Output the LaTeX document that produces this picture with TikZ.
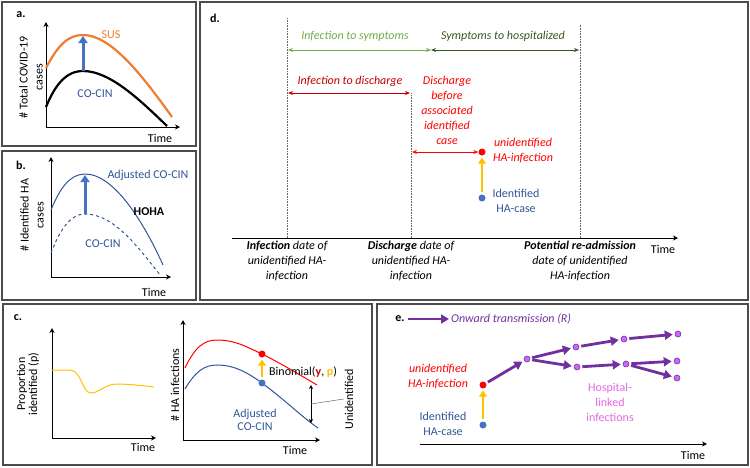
\documentclass[tikz,border=0pt]{standalone}
\usepackage{fontspec}
\setmainfont{Carlito}
\usetikzlibrary{arrows.meta, positioning, calc}

\definecolor{susorange}{RGB}{237,125,49}
\definecolor{cinblue}{RGB}{47,85,151}
\definecolor{arrowblue}{RGB}{68,114,196}
\definecolor{gold}{RGB}{255,192,0}
\definecolor{lightgreen}{RGB}{112,173,71}
\definecolor{darkgreen}{RGB}{56,87,35}
\definecolor{darkred}{RGB}{192,0,0}
\definecolor{purp}{RGB}{112,48,160}
\definecolor{violetdot}{RGB}{204,102,255}
\definecolor{pinktext}{RGB}{225,105,225}
\newcommand{\figfont}{\fontsize{12}{15}\selectfont}

\begin{document}
\begin{tikzpicture}[
    x=1pt, y=-1pt,
    every node/.style={font=\figfont, inner sep=1pt},
    frame/.style={draw=black!70, line width=1.1pt},
    axis/.style={-{Stealth[length=5pt,width=5pt]}, line width=0.8pt},
    tag/.style={font=\figfont\bfseries},
    bigarrow/.style={-{Triangle[length=7pt,width=9pt]}, line width=3pt},
    goldarrow/.style={-{Triangle[length=6pt,width=8pt]}, line width=2.6pt, gold, shorten >=2pt, shorten <=2pt},
    span/.style={{Stealth[length=5pt,width=4pt]}-{Stealth[length=5pt,width=4pt]}, line width=1pt},
    guide/.style={densely dotted, draw=black!60, line width=0.6pt},
    dot/.style={circle, inner sep=0pt, minimum size=7pt},
    hdot/.style={circle, draw=purp, fill=violetdot, line width=0.6pt, inner sep=0pt, minimum size=6pt},
    onward/.style={-{Triangle[length=8pt,width=9pt]}, line width=2.8pt, purp, shorten >=2pt, shorten <=2pt}
]
\useasboundingbox (0,0) rectangle (750,467);

% Panel frames
\draw[frame] (2,2) rectangle (196,146);
\draw[frame] (2,151) rectangle (196,300);
\draw[frame] (200,2) rectangle (748,300);
\draw[frame] (3,304) rectangle (372,465);
\draw[frame] (377,304) rectangle (748,465);

% Panel a
\node[tag] (taga) at (21,15) {a.};
\coordinate (oa) at (46,127);
\draw[axis] (oa) -- (46,22);
\draw[axis] (oa) -- (180,127);
\node[rotate=90, align=center] (ya) at (31,77) {\# Total COVID-19\\cases};
\node (tia) at (160,138) {Time};
\draw[susorange, line width=2.2pt] (46,68) .. controls (58,45) and (68,35) .. (83,35)
    .. controls (110,35) and (140,72) .. (172,117);
\draw[black, line width=2.2pt] (46,107) .. controls (55,85) and (66,71) .. (83,71)
    .. controls (110,71) and (140,100) .. (167,126);
\draw[bigarrow, arrowblue] (83,71) -- (83,36);
\node[susorange] (sus) at (111,35) {SUS};
\node[cinblue] (cina) at (95,94) {CO-CIN};

% Panel b
\node[tag] (tagb) at (21,165) {b.};
\coordinate (ob) at (51,277);
\draw[axis] (ob) -- (51,157);
\draw[axis] (ob) -- (171,277);
\node[rotate=90, align=center] (yb) at (32,215) {\# Identified HA\\cases};
\node (tib) at (154,292) {Time};
\draw[cinblue, line width=1pt] (51,210) .. controls (60,188) and (70,174) .. (85,174)
    .. controls (115,174) and (145,225) .. (163,265);
\draw[cinblue, line width=1pt, dashed] (51,253) .. controls (60,230) and (70,214) .. (85,214)
    .. controls (115,214) and (140,250) .. (161,276);
\draw[bigarrow, arrowblue] (85,214) -- (85,175);
\node[cinblue] (adjb) at (148,175) {Adjusted CO-CIN};
\node[font=\figfont\bfseries] (hoha) at (149,212) {HOHA};
\node[cinblue] (cinb) at (103,244) {CO-CIN};

% Panel c
\node[tag] (tagc) at (18,318) {c.};
\coordinate (oc1) at (52,438);
\draw[axis] (oc1) -- (52,328);
\draw[axis] (oc1) -- (156,438);
\node[rotate=90, align=center, font=\fontsize{12}{12}\selectfont] (yc1) at (28,384) {Proportion\\identified (p)};
\node (tic1) at (143,447) {Time};
\draw[gold, line width=1pt] (52,370) -- (70,370) .. controls (82,371) and (82,393) .. (91,393)
    .. controls (99,393) and (105,384) .. (117,384) .. controls (130,384) and (145,386) .. (154,387);
\coordinate (oc2) at (183,440);
\draw[axis] (oc2) -- (183,320);
\draw[axis] (oc2) -- (320,440);
\node[rotate=90] (yc2) at (175,385) {\# HA infections};
\node (tic2) at (295,450) {Time};
\draw[red, line width=1pt] (185,368) .. controls (195,347) and (204,340) .. (217,340)
    .. controls (235,340) and (247,347) .. (262,354) .. controls (282,364) and (300,375) .. (317,385);
\draw[cinblue, line width=1pt] (185,389) .. controls (195,372) and (204,365) .. (217,365)
    .. controls (235,365) and (248,373) .. (262,383) .. controls (285,400) and (302,417) .. (318,428);
\node[dot, fill=red] (cred) at (262,354) {};
\node[dot, fill=arrowblue] (cblue) at (262,383) {};
\draw[goldarrow] (cblue) -- (cred);
\node[anchor=west] (binom) at (268,372) {Binomial({\color{darkred}\textbf{y}}, {\color{gold}\textbf{p}})};
\coordinate (unidtop) at (311,385);
\coordinate (unidbot) at (311,423);
\draw[{Stealth[length=4pt,width=4pt]}-{Stealth[length=4pt,width=4pt]}, line width=0.6pt] (unidtop) -- (unidbot);
\node[rotate=90] (unid) at (349,399) {Unidentified};
\draw[black!60, line width=0.5pt] ($(unidtop)!0.5!(unidbot)$) -- (unid.north);
\node[cinblue, align=center, font=\fontsize{12}{13.5}\selectfont] (adjc) at (255,420) {Adjusted\\CO-CIN};

% Panel d
\node[tag] (tagd) at (215,18) {d.};
\coordinate (tl0) at (232,238);
\coordinate (tl1) at (678,238);
\coordinate (xinf) at (287,238);
\coordinate (xdis) at (411,238);
\coordinate (xadm) at (580,238);
\draw[guide] (xinf) -- (287,18);
\draw[guide] (xdis) -- (411,93);
\draw[guide] (xadm) -- (580,25);
\draw[axis] (tl0) -- (tl1);
\node (tid) at (663,249) {Time};
\coordinate (sym) at (431,50);
\draw[span, lightgreen] (288,50) -- (sym);
\draw[span, darkgreen] (sym) -- (579,50);
\node[lightgreen, font=\figfont\itshape] (ltsym) at (355,36) {Infection to symptoms};
\node[darkgreen, font=\figfont\itshape] (ltsh) at (503,36) {Symptoms to hospitalized};
\draw[span, darkred] (288,93) -- (410,93);
\node[darkred, font=\figfont\itshape] (ltdis) at (350,81) {Infection to discharge};
\node[red, align=center, font=\figfont\itshape] (ltbef) at (447,110) {Discharge\\before\\associated\\identified\\case};
\node[dot, fill=red] (dred) at (482,152) {};
\node[dot, fill=arrowblue] (dblue) at (482,198) {};
\draw[span, red] (412,152) -- (dred);
\draw[goldarrow] (dblue) -- (dred);
\node[red, align=center, font=\figfont\itshape] (dunid) at (523,151) {unidentified\\HA-infection};
\node[cinblue, align=center] (dident) at (516,201) {Identified\\HA-case};
\node[align=center, font=\figfont\itshape, below=2pt of xinf] (linf) {\textbf{Infection} date of\\unidentified HA-\\infection};
\node[align=center, font=\figfont\itshape, below=2pt of xdis] (ldis) {\textbf{Discharge} date of\\unidentified HA-\\infection};
\node[align=center, font=\figfont\itshape, below=2pt of xadm] (ladm) {\textbf{Potential re-admission}\\date of unidentified\\HA-infection};

% Panel e
\node[tag] (tage) at (400,319) {e.};
\coordinate (lgs) at (408,319);
\coordinate (lge) at (449,319);
\draw[onward, shorten <=0pt, shorten >=0pt] (lgs) -- (lge);
\node[purp, anchor=west, font=\figfont\itshape] (lgt) at (450,319) {Onward transmission (R)};
\coordinate (te0) at (420,444);
\coordinate (te1) at (707,444);
\draw[axis] (te0) -- (te1);
\node (tie) at (693,455) {Time};
\node[dot, fill=red] (ered) at (483,385) {};
\node[dot, fill=arrowblue] (eblue) at (483,425) {};
\draw[goldarrow] (eblue) -- (ered);
\node[red, align=center, font=\figfont\itshape] (eunid) at (438,377) {unidentified\\HA-infection};
\node[cinblue, align=center] (eident) at (443,424) {Identified\\HA-case};
\node[hdot] (h1) at (527,359) {};
\node[hdot] (h2a) at (576,347) {};
\node[hdot] (h2b) at (577,367) {};
\node[hdot] (h3a) at (624,339) {};
\node[hdot] (h3b) at (626,364) {};
\node[hdot] (h4a) at (678,334) {};
\node[hdot] (h4b) at (677,361) {};
\node[hdot] (h4c) at (677,378) {};
\foreach \s/\t in {ered/h1, h1/h2a, h1/h2b, h2a/h3a, h2b/h3b, h3a/h4a, h3b/h4b, h3b/h4c}
    \draw[onward] (\s) -- (\t);
\node[pinktext, align=center] (hosp) at (610,402) {Hospital-\\linked\\infections};

\end{tikzpicture}
\end{document}
